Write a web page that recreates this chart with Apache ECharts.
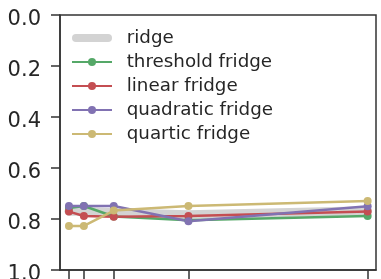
<!DOCTYPE html>
<html>
<head>
<meta charset="utf-8">
<script src="https://cdn.jsdelivr.net/npm/echarts@6/dist/echarts.min.js"></script>
<style>
  html, body { margin: 0; padding: 0; background: #fff; }
  #main { width: 381px; height: 279px; }
</style>
</head>
<body>
<div id="main"></div>
<script>
  // x positions of the samples
  var xValues = [1, 2, 4, 9, 21];
  // y values (axis is inverted)
  var ridge = [0.77, 0.77, 0.775, 0.783, 0.768];
  var thresholdFridge = [0.757, 0.749, 0.79, 0.805, 0.788];
  var linearFridge = [0.771, 0.788, 0.791, 0.788, 0.771];
  var quadraticFridge = [0.749, 0.749, 0.749, 0.809, 0.75];
  var quarticFridge = [0.827, 0.827, 0.767, 0.749, 0.729];
  var yTicks = [0, 0.2, 0.4, 0.6, 0.8, 1.0];

  var textColor = '#262626';
  var axisColor = '#333333';
  var ridgeColor = '#d3d3d3';

  function pairs(ys) {
    return xValues.map(function (x, i) { return [x, ys[i]]; });
  }

  function fridge(name, ys, color) {
    return {
      name: name,
      type: 'line',
      data: pairs(ys),
      symbol: 'circle',
      symbolSize: 8,
      lineStyle: { width: 2.5, color: color },
      itemStyle: { color: color },
      emphasis: { disabled: true }
    };
  }

  var myChart = echarts.init(document.getElementById('main'), null, { renderer: 'canvas' });

  var option = {
    animation: false,
    textStyle: { fontFamily: 'DejaVu Sans' },
    grid: {
      left: 60, right: 5, top: 15, bottom: 9,
      show: true, borderColor: axisColor, borderWidth: 1.5,
      containLabel: false,
      outerBoundsMode: 'none'
    },
    legend: {
      orient: 'vertical',
      left: 71, top: 29,
      padding: 0,
      itemWidth: 40, itemHeight: 10,
      itemGap: 6,
      textStyle: { fontSize: 18.3, color: textColor, lineHeight: 18, padding: [0, 0, 0, 9.7] },
      data: [
        {
          name: 'ridge',
          icon: 'path://M4,0 L36,0 A4,4 0 0 1 36,8 L4,8 A4,4 0 0 1 4,0 Z',
          itemStyle: { color: ridgeColor }
        },
        'threshold fridge', 'linear fridge', 'quadratic fridge', 'quartic fridge'
      ]
    },
    xAxis: {
      type: 'value',
      min: 0.4, max: 21.56,
      splitLine: { show: false },
      axisLine: { show: true, onZero: false, lineStyle: { color: axisColor, width: 1.5 } },
      axisTick: { show: true, length: 9, customValues: xValues, lineStyle: { color: axisColor, width: 1.5 } },
      axisLabel: { show: false }
    },
    yAxis: {
      type: 'value',
      inverse: true,
      min: 0, max: 1, interval: 0.2,
      splitLine: { show: false },
      axisLine: { show: true, lineStyle: { color: axisColor, width: 1.5 } },
      axisTick: { show: true, length: 9, lineStyle: { color: axisColor, width: 1.5 } },
      axisLabel: {
        margin: 19,
        verticalAlign: 'middle',
        customValues: yTicks,
        formatter: function (v) { return '{t|' + v.toFixed(1) + '}'; },
        rich: {
          t: { fontSize: 21, color: textColor, fontFamily: 'DejaVu Sans', padding: [10, 0, 0, 0] }
        }
      }
    },
    series: [
      {
        name: 'ridge',
        type: 'line',
        data: pairs(ridge),
        symbol: 'none',
        lineStyle: { width: 9, color: ridgeColor, cap: 'round', join: 'round' },
        itemStyle: { color: ridgeColor },
        emphasis: { disabled: true }
      },
      fridge('threshold fridge', thresholdFridge, '#55a868'),
      fridge('linear fridge', linearFridge, '#c44e52'),
      fridge('quadratic fridge', quadraticFridge, '#8172b2'),
      fridge('quartic fridge', quarticFridge, '#ccb974')
    ]
  };

  myChart.setOption(option);
</script>
</body>
</html>
